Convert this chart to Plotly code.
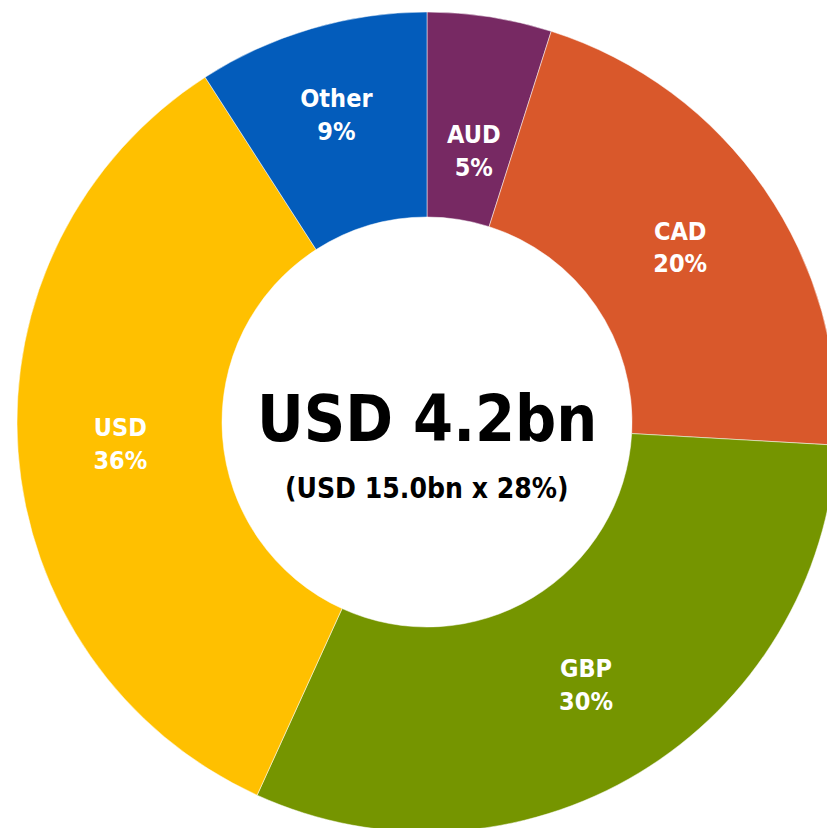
import math
import plotly.graph_objects as go

# currencies, clockwise from 12 o'clock
currencies = ["AUD", "CAD", "GBP", "USD", "Other"]
shares = [4.9, 21.0, 30.9, 34.1, 9.1]
# percentages printed on the slices
pct_labels = ["5%", "20%", "30%", "36%", "9%"]
colors = ["#772963", "#D9582B", "#759500", "#FFC000", "#035CBB"]

total_text = "USD 4.2bn"
sub_text = "(USD 15.0bn x 28%)"

FONT = "DejaVu Sans Condensed, Liberation Sans, sans-serif"
LABEL_SIZE = 25

W, H = 850, 850
# pie box in pixels (plot coords, page margin removed below)
px0, px1 = 17, 837
py0, py1 = 12, 832
HOLE = 0.5

# narrow slices get their label placed at mid-ring by hand (plotly pushes them outward)
manual = ["AUD"]

texts = []
for c, p in zip(currencies, pct_labels):
    texts.append("" if c in manual else f"<b>{c}<br>{p}</b>")

fig = go.Figure()
fig.add_trace(go.Pie(
    labels=currencies,
    values=shares,
    text=texts,
    textinfo="text",
    textposition="inside",
    insidetextorientation="horizontal",
    textfont=dict(family=FONT, size=LABEL_SIZE, color="white"),
    marker=dict(colors=colors, line=dict(color="white", width=0.5)),
    hole=HOLE,
    sort=False,
    direction="clockwise",
    rotation=0,
    showlegend=False,
    domain=dict(x=[px0 / W, px1 / W], y=[1 - py1 / H, 1 - py0 / H]),
))

cx_px = (px0 + px1) / 2
cy_px = (py0 + py1) / 2
R = (px1 - px0) / 2
cx = cx_px / W
cy = 1 - cy_px / H

# mid-ring labels for the manual slices, from the slice angles
total = sum(shares)
cum = 0
for c, s, p in zip(currencies, shares, pct_labels):
    mid = (cum + s / 2) / total * 2 * math.pi
    cum += s
    if c not in manual:
        continue
    r = R * (1 + HOLE) / 2
    x = cx_px + r * math.sin(mid)
    y = cy_px - r * math.cos(mid)
    fig.add_annotation(x=x / W, y=1 - y / H, xref="paper", yref="paper",
                       text=f"<b>{c}<br>{p}</b>", showarrow=False,
                       font=dict(family=FONT, size=LABEL_SIZE, color="white"))

fig.add_annotation(x=cx, y=cy, xref="paper", yref="paper", text=f"<b>{total_text}</b>",
                   showarrow=False, font=dict(family=FONT, size=64, color="black"),
                   yshift=3)
fig.add_annotation(x=cx, y=cy, xref="paper", yref="paper", text=f"<b>{sub_text}</b>",
                   showarrow=False, font=dict(family=FONT, size=28, color="black"),
                   yshift=-66)

fig.update_layout(
    width=W, height=H,
    margin=dict(l=0, r=0, t=0, b=0),
    paper_bgcolor="white",
    plot_bgcolor="white",
)

# the ring runs off the page edge: drop the page margin and hide scrollbars
fig.write_html("out.html",
               config={"displayModeBar": False},
               post_script="document.body.style.margin='0';"
                           "document.documentElement.style.overflow='hidden';")
